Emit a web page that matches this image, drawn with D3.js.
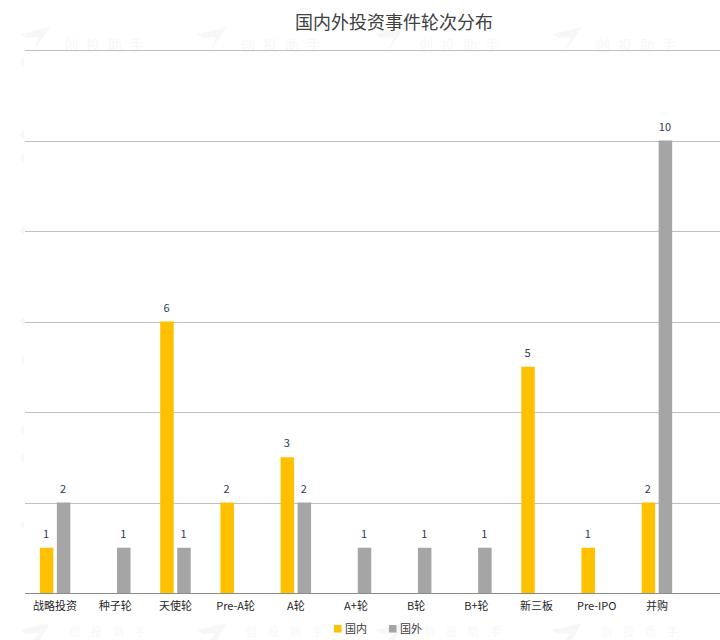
<!DOCTYPE html>
<html>
<head>
    <meta charset="utf-8">
    <script src="https://d3js.org/d3.v7.min.js" charset="utf-8"></script>
    <style>
        body { margin: 0; background: #fff; }
        text { font-family: "Noto Sans CJK SC", "Noto Sans", sans-serif; }
    </style>
</head>
<body>
    <script>
        var categories = ["战略投资", "种子轮", "天使轮", "Pre-A轮", "A轮", "A+轮", "B轮", "B+轮", "新三板", "Pre-IPO", "并购"];
        var domestic = [1, 0, 6, 2, 3, 0, 0, 0, 5, 1, 2];
        var foreign = [2, 1, 1, 0, 2, 1, 1, 1, 0, 0, 10];
        var yTicks = [0, 2, 4, 6, 8, 10, 12];
        var seriesNames = ["国内", "国外"];
        var seriesColors = ["#ffc000", "#a5a5a5"];
        var titleText = "国内外投资事件轮次分布";
        var watermark = "创投助手";

        var svg = d3.select("body")
            .append("svg")
            .attr("width", 720)
            .attr("height", 640)
            .style("display", "block");

        // faint watermark, goes under everything else
        var wm = svg.append("g").attr("fill", "#f7f7f7");
        [20, 197, 375, 552].forEach(function (wx) {
            wm.append("path")
                .attr("d", "M0,-16 L30,-23 L13,1 L19,-13 L6,-12 Z")
                .attr("transform", "translate(" + wx + ",50)");
            wm.append("text")
                .attr("x", wx + 44)
                .attr("y", 50)
                .attr("font-size", 14)
                .attr("letter-spacing", 8)
                .text(watermark);
            wm.append("path")
                .attr("d", "M0,-10 L30,-17 L20,0 L13,0 L19,-7 L6,-6 Z")
                .attr("transform", "translate(" + wx + ",640)");
            // bottom row kept clear of the legend text
            wm.append("text")
                .attr("x", wx + 49)
                .attr("y", 636)
                .attr("font-size", 11)
                .attr("letter-spacing", 11)
                .text(watermark);
        });
        // cut off logos down the left edge
        [62, 135, 158, 231, 321, 360, 430, 458, 525].forEach(function (wy) {
            wm.append("path")
                .attr("d", "M20,0 L24,-5 L24,5 Z")
                .attr("transform", "translate(0," + wy + ")");
        });

        var x = d3.scaleBand().domain(categories).range([25, 687]);
        var y = d3.scaleLinear().domain([0, 12]).range([593, 50]);

        // gridlines
        svg.append("g")
            .attr("transform", "translate(25,0)")
            .call(d3.axisLeft(y).tickValues(yTicks).tickSize(-695).tickFormat(""))
            .call(function (g) { g.select(".domain").remove(); })
            .selectAll("line")
            .attr("shape-rendering", "crispEdges")
            .attr("stroke", function (d) { return d === 0 ? "#8c8c8c" : "#bfbfbf"; });

        // category labels
        var xAxis = svg.append("g")
            .attr("transform", "translate(0,593)")
            .call(d3.axisBottom(x).tickSize(0).tickPadding(9));
        xAxis.select(".domain").remove();
        xAxis.selectAll("text")
            .attr("font-size", 11)
            .attr("font-family", "\"Noto Sans CJK SC\", sans-serif")
            .attr("fill", "#262626");

        var barW = 13.5, gap = 3.5;
        [domestic, foreign].forEach(function (values, s) {
            var offset = s === 0 ? -gap / 2 - barW : gap / 2;
            var rows = categories.map(function (c, i) { return { c: c, v: values[i] }; })
                .filter(function (d) { return d.v > 0; });
            svg.append("g").selectAll("rect")
                .data(rows)
                .enter()
                .append("rect")
                .attr("x", function (d) { return x(d.c) + x.bandwidth() / 2 + offset; })
                .attr("y", function (d) { return y(d.v); })
                .attr("width", barW)
                .attr("height", function (d) { return y(0) - y(d.v); })
                .attr("fill", seriesColors[s]);
            svg.append("g").selectAll("text")
                .data(rows)
                .enter()
                .append("text")
                .attr("x", function (d) { return x(d.c) + x.bandwidth() / 2 + offset + barW / 2 - 0.5; })
                .attr("y", function (d) { return y(d.v) - 10; })
                .attr("text-anchor", "middle")
                .attr("font-size", 11)
                .attr("fill", "#2f3a5a")
                .text(function (d) { return d.v; });
        });

        svg.append("text")
            .attr("x", 394)
            .attr("y", 29)
            .attr("text-anchor", "middle")
            .attr("font-size", 18)
            .attr("fill", "#404040")
            .text(titleText);

        // legend
        var legend = svg.append("g").selectAll("g")
            .data(seriesNames)
            .enter()
            .append("g")
            .attr("transform", function (d, i) { return "translate(" + (334 + i * 55) + ",625)"; });
        legend.append("rect")
            .attr("width", 7.5)
            .attr("height", 7.5)
            .attr("fill", function (d, i) { return seriesColors[i]; });
        legend.append("text")
            .attr("x", 11)
            .attr("y", 7.5)
            .attr("font-size", 11)
            .attr("fill", "#404040")
            .text(function (d) { return d; });
    </script>
</body>
</html>
